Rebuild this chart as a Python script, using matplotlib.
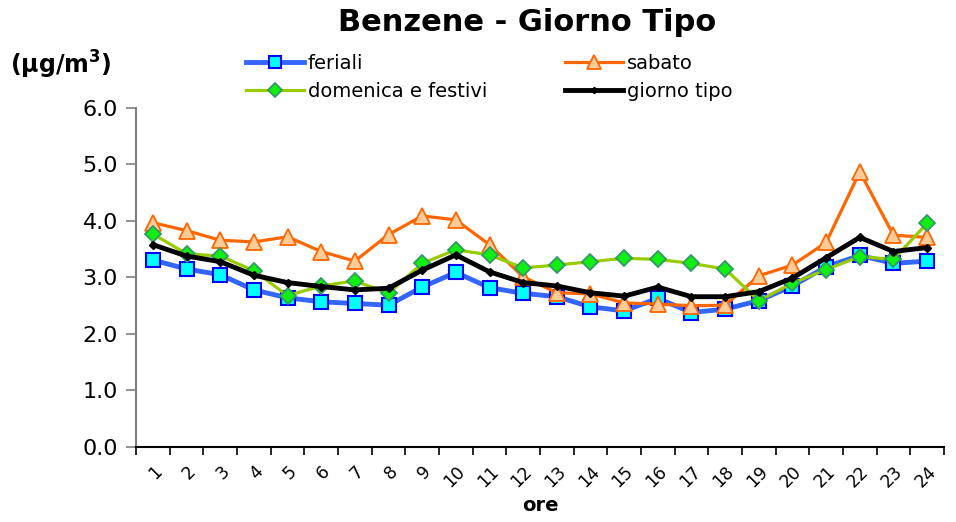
import matplotlib
matplotlib.use("Agg")
import matplotlib.pyplot as plt

ore = [str(h) for h in range(1, 25)]

feriali = [3.31, 3.15, 3.05, 2.78, 2.64, 2.57, 2.54, 2.51, 2.83, 3.09, 2.82, 2.72,
           2.66, 2.48, 2.41, 2.63, 2.38, 2.44, 2.59, 2.85, 3.19, 3.39, 3.25, 3.29]
sabato = [3.97, 3.83, 3.66, 3.63, 3.72, 3.46, 3.29, 3.76, 4.09, 4.02, 3.58, 3.01,
          2.73, 2.71, 2.55, 2.53, 2.50, 2.51, 3.03, 3.22, 3.62, 4.87, 3.75, 3.71]
domenica = [3.77, 3.42, 3.38, 3.12, 2.68, 2.85, 2.94, 2.72, 3.25, 3.49, 3.40, 3.17,
            3.22, 3.28, 3.34, 3.32, 3.25, 3.15, 2.59, 2.90, 3.14, 3.37, 3.32, 3.96]
giorno_tipo = [3.58, 3.38, 3.28, 3.04, 2.91, 2.84, 2.78, 2.81, 3.13, 3.40, 3.10, 2.91,
               2.85, 2.73, 2.67, 2.83, 2.66, 2.66, 2.75, 2.99, 3.35, 3.71, 3.46, 3.53]

fig = plt.figure(figsize=(9.56, 5.22), dpi=100)
ax = fig.add_axes([0.1423, 0.1437, 0.8451, 0.6494])

x = list(range(len(ore)))

l1, = ax.plot(x, feriali, color="#3366FF", lw=3.5, marker="s", ms=10,
              mfc="#00FFFF", mec="#0000FF", mew=1.5, label="feriali")
l2, = ax.plot(x, sabato, color="#FF6600", lw=2.3, marker="^", ms=12,
              mfc="#FFCC99", mec="#FF6600", mew=1.3, label="sabato")
l3, = ax.plot(x, domenica, color="#99CC00", lw=2.3, marker="D", ms=8.5,
              mfc="#11EE11", mec="#339966", mew=1.3, label="domenica e festivi")
l4, = ax.plot(x, giorno_tipo, color="black", lw=3.5, marker="D", ms=4,
              mfc="black", mec="black", label="giorno tipo")

ax.set_xlim(-0.5, 23.5)
ax.set_ylim(0, 6)
ax.set_yticks([0, 1, 2, 3, 4, 5, 6])
ax.set_yticklabels([f"{v:.1f}" for v in range(7)], fontsize=16)

ax.set_xticks(x)
ax.set_xticklabels(ore, rotation=45, ha="right", rotation_mode="anchor", fontsize=12.5)
ax.tick_params(axis="x", which="major", length=0, pad=11)
ax.set_xticks([i - 0.5 for i in range(25)], minor=True)
ax.tick_params(axis="x", which="minor", length=6, direction="out", width=1.2)
ax.tick_params(axis="y", length=7, width=1.2, color="#808080", direction="out", pad=6)

for s in ["top", "right"]:
    ax.spines[s].set_visible(False)
ax.spines["left"].set_color("#808080")
ax.spines["left"].set_linewidth(1.5)
ax.spines["bottom"].set_linewidth(1.5)

ax.set_xlabel("ore", fontsize=14, fontweight="bold", labelpad=4)

fig.text(0.551, 0.957, "Benzene - Giorno Tipo", ha="center", va="center",
         fontsize=22, fontweight="bold")
fig.text(0.01, 0.876, "(\u03bcg/m$^\\mathbf{3}$)", ha="left", va="center",
         fontsize=17, fontweight="bold")

fig.legend([l1, l3, l2, l4], ["feriali", "domenica e festivi", "sabato", "giorno tipo"],
           ncol=2, loc="upper left", bbox_to_anchor=(0.257, 0.897), frameon=False,
           fontsize=14, handlelength=3.0, handletextpad=0.2, columnspacing=4.0,
           labelspacing=0.45, borderaxespad=0, borderpad=0, markerscale=0.8)

fig.savefig("out.png", dpi=100)
